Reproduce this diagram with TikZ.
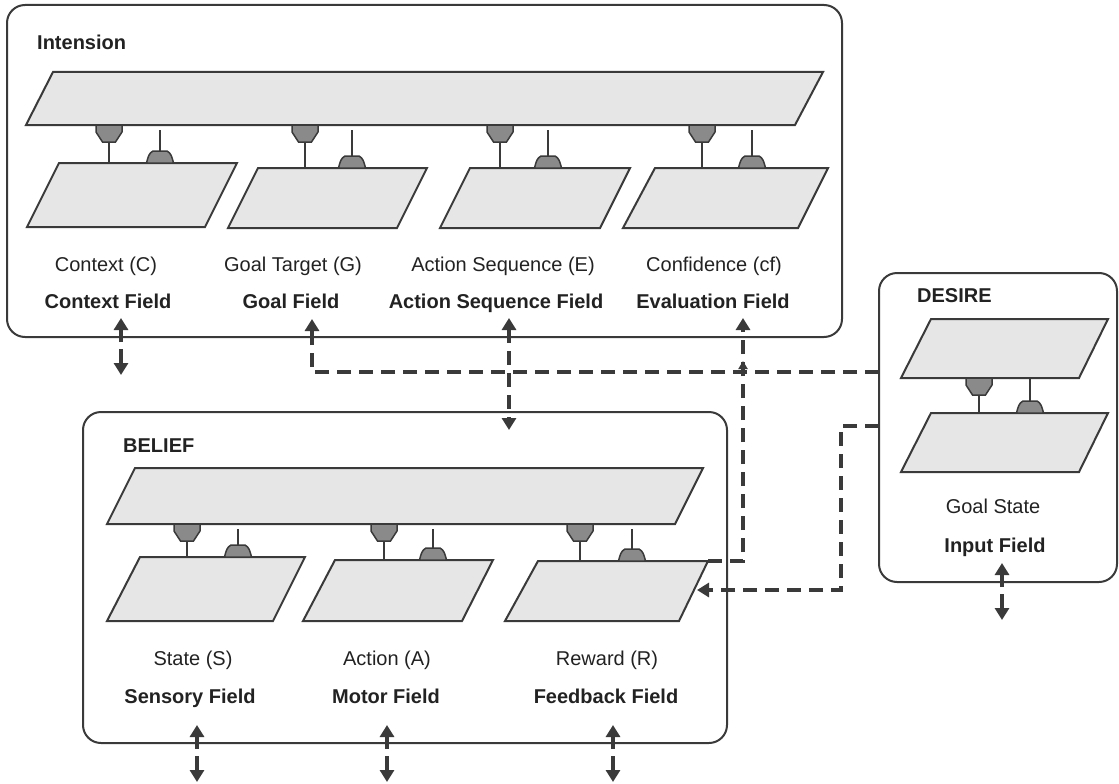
\documentclass[tikz,border=0pt]{standalone}
\usepackage{fontspec}
\setmainfont{Liberation Sans}
\usetikzlibrary{arrows.meta}
\definecolor{ln}{HTML}{3A3A3A}
\definecolor{pf}{HTML}{E6E6E6}
\definecolor{pg}{HTML}{8A8A8A}
\definecolor{tx}{HTML}{222222}
\begin{document}
\begin{tikzpicture}[x=1pt,y=-1pt,
 dt/.tip={Triangle[width=14pt,length=12pt]},
 st/.tip={Triangle[width=9pt,length=8pt]},
 frame/.style={draw=ln,line width=2pt,rounded corners=18pt},
 para/.style={draw=ln,fill=pf,line width=2pt,line join=miter},
 plug/.style={draw=ln,fill=pg,line width=1.5pt},
 stem/.style={draw=ln,line width=1.6pt},
 lab/.style={font=\fontsize{20}{24}\selectfont,anchor=base,inner sep=0pt,text=tx},
 blab/.style={font=\fontsize{20}{24}\selectfont\bfseries,anchor=base,inner sep=0pt,text=tx},
 ttl/.style={font=\fontsize{20}{24}\selectfont\bfseries,anchor=base west,inner sep=0pt,text=tx},
 arr/.style={draw=ln,line width=3.5pt,-dt},
 dsh/.style={draw=ln,line width=3.5pt,dash pattern=on 14pt off 8pt},
 hexplug/.pic={\path[plug] (-13,0) -- (13,0) -- (13,7) -- (6.5,17) -- (-6.5,17) -- (-13,7) -- cycle;},
 bumpplug/.pic={\path[plug] (-13.5,0) .. controls (-12,-6) and (-11,-10) .. (-7,-12) -- (7,-12) .. controls (11,-10) and (12,-6) .. (13.5,0) -- cycle;}
]
\useasboundingbox (0,0) rectangle (1119,784);

% ---------- frames
\draw[frame] (7,5) rectangle (842,337);
\draw[frame] (83,412) rectangle (727,743);
\draw[frame] (879,273) rectangle (1117,582);

\node[ttl] (tInt) at (37,50) {Intension};
\node[ttl] (tBel) at (123,452) {BELIEF};
\node[ttl] (tDes) at (917,302) {DESIRE};

% ---------- Intension
\draw[para] (53,72) -- (823,72) -- (795,125) -- (26,125) -- cycle;
\draw[para] (59,163) -- (237,163) -- (205,227) -- (27,227) -- cycle;
\draw[para] (258,168) -- (427,168) -- (397,228) -- (228,228) -- cycle;
\draw[para] (470,168) -- (630,168) -- (600,228) -- (440,228) -- cycle;
\draw[para] (655,168) -- (828,168) -- (798,228) -- (623,228) -- cycle;

\foreach \h/\b/\t in {109/160/163, 305/352/168, 500/548/168, 702/752/168}{
  \draw[stem] (\h,142) -- (\h,\t);
  \draw[stem] (\b,\t-12) -- (\b,130);
  \pic at (\h,125) {hexplug};
  \pic at (\b,\t) {bumpplug};
}

\node[lab] (lC) at (106,271) {Context (C)};
\node[lab] (lG) at (293,271) {Goal Target (G)};
\node[lab] (lE) at (503,271) {Action Sequence (E)};
\node[lab] (lF) at (714,271) {Confidence (cf)};
\node[blab] (fC) at (108,308) {Context Field};
\node[blab] (fG) at (291,308) {Goal Field};
\node[blab] (fE) at (496,308) {Action Sequence Field};
\node[blab] (fF) at (713,308) {Evaluation Field};

% ---------- Belief
\draw[para] (135,468) -- (703,468) -- (675,524) -- (107,524) -- cycle;
\draw[para] (140,557) -- (305,557) -- (273,621) -- (107,621) -- cycle;
\draw[para] (335,560) -- (493,560) -- (462,621) -- (303,621) -- cycle;
\draw[para] (538,561) -- (708,561) -- (679,621) -- (505,621) -- cycle;

\foreach \h/\b/\t in {187/238/557, 384/433/560, 580/632/561}{
  \draw[stem] (\h,541) -- (\h,\t);
  \draw[stem] (\b,\t-12) -- (\b,529);
  \pic at (\h,524) {hexplug};
  \pic at (\b,\t) {bumpplug};
}

\node[lab] (lS) at (193,665) {State (S)};
\node[lab] (lA) at (387,665) {Action (A)};
\node[lab] (lR) at (607,665) {Reward (R)};
\node[blab] (fS) at (190,703) {Sensory Field};
\node[blab] (fA) at (386,703) {Motor Field};
\node[blab] (fR) at (606,703) {Feedback Field};

% ---------- Desire
\draw[para] (931,319) -- (1108,319) -- (1079,378) -- (901,378) -- cycle;
\draw[para] (931,413) -- (1108,413) -- (1079,472) -- (901,472) -- cycle;
\draw[stem] (979,395) -- (979,413);
\draw[stem] (1030,401) -- (1030,378);
\pic at (979,378) {hexplug};
\pic at (1030,413) {bumpplug};
\node[lab] (lD) at (993,513) {Goal State};
\node[blab] (fD) at (995,552) {Input Field};

% ---------- solid double arrows
\foreach \x/\y in {121/337, 197/744, 387/744, 613/744, 1002/582}{
  \draw[arr] (\x,\y+5) -- (\x,\y-19);
  \draw[arr] (\x,\y+12) -- (\x,\y+38);
}

% ---------- dashed connectors
\coordinate (dA) at (879,372);
\coordinate (dB) at (879,426);
\coordinate (gTip) at (312,319);
\coordinate (eTop) at (509,318);
\coordinate (eBot) at (509,430);
\coordinate (vTip) at (743,318);
\coordinate (vMid) at (743,361);
\coordinate (rCorner) at (708,561);
\coordinate (rTip) at (697,590);

\draw[dsh,-dt] (dA) -- (312,372) -- (gTip);
\draw[dsh,dt-dt] (eTop) -- (eBot);
\draw[dsh,-dt] (rCorner) -- (743,561) -- (vTip);
\draw[draw=ln,line width=3.5pt,-st] (743,376) -- (vMid);
\draw[dsh,-dt] (dB) -- (841,426) -- (841,590) -- (rTip);
\end{tikzpicture}
\end{document}
